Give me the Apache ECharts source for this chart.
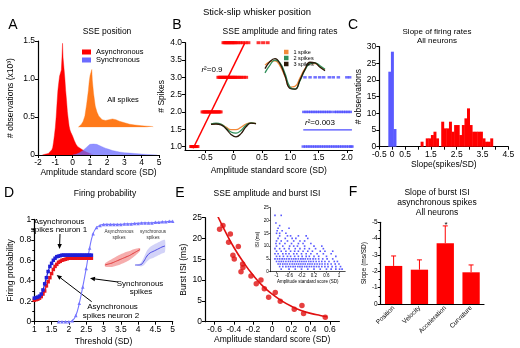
<!DOCTYPE html>
<html>
<head>
<meta charset="utf-8">
<script src="https://cdn.jsdelivr.net/npm/echarts@6/dist/echarts.min.js"></script>
<style>
  html, body { margin: 0; padding: 0; background: #fff; }
  #chart { width: 520px; height: 348px; }
</style>
</head>
<body>
<div id="chart"></div>
<script>
const FONT = '"Liberation Sans", Arial, sans-serif'

// ---- A: SSE position histograms [amplitude SD, count x10^3]
const aAsync = [[-1.75,0],[-1.6,0.01],[-1.5,0.015],[-1.4,0.02],[-1.3,0.04],[-1.2,0.07],[-1.15,0.1],[-1.1,0.17],[-1.05,0.26],[-1.0,0.36],[-0.95,0.5],[-0.9,0.68],[-0.85,0.85],[-0.8,0.95],[-0.75,1.04],[-0.7,1.08],[-0.65,1.12],[-0.61,1.3],[-0.58,1.47],[-0.55,1.28],[-0.5,1.15],[-0.45,1.02],[-0.4,0.85],[-0.35,0.72],[-0.3,0.57],[-0.25,0.47],[-0.2,0.38],[-0.15,0.33],[-0.1,0.3],[-0.05,0.28],[0,0.25],[0.1,0.19],[0.2,0.14],[0.3,0.11],[0.4,0.09],[0.5,0.08],[0.6,0.07],[0.7,0.05],[0.8,0.04],[0.9,0.03],[1.0,0.02],[1.1,0.01],[1.2,0]]
const aSync = [[0,0],[0.2,0.01],[0.4,0.03],[0.6,0.06],[0.8,0.1],[0.9,0.12],[1.0,0.14],[1.1,0.15],[1.2,0.145],[1.3,0.15],[1.4,0.14],[1.5,0.125],[1.7,0.11],[1.9,0.09],[2.1,0.075],[2.3,0.06],[2.5,0.05],[2.7,0.04],[3.0,0.03],[3.3,0.025],[3.6,0.02],[4.0,0.012],[4.3,0.008],[4.6,0.004],[4.9,0]]
// inset "All spikes", heights above the inset baseline
const aAll = [[0.31,0],[0.4,0.02],[0.5,0.04],[0.6,0.08],[0.7,0.15],[0.8,0.3],[0.9,0.48],[0.95,0.6],[1.0,0.68],[1.05,0.72],[1.1,0.76],[1.13,0.62],[1.2,0.45],[1.3,0.28],[1.4,0.2],[1.5,0.15],[1.7,0.1],[1.9,0.09],[2.1,0.1],[2.3,0.11],[2.5,0.1],[2.7,0.08],[3.0,0.06],[3.3,0.04],[3.6,0.03],[4.0,0.02],[4.3,0.015],[4.64,0.01],[4.65,0]]

// ---- B: number of spikes vs amplitude
const bAsync1 = [-0.75,-0.74,-0.73,-0.72,-0.71,-0.7,-0.69,-0.68,-0.66,-0.64]
const bAsync2 = [-0.55,-0.53,-0.51,-0.49,-0.47,-0.45,-0.43,-0.41,-0.39,-0.37,-0.35,-0.33,-0.31,-0.29,-0.27,-0.25,-0.23]
const bAsync3 = [-0.27,-0.25,-0.23,-0.21,-0.19,-0.17,-0.15,-0.13,-0.11,-0.09,-0.07,-0.05,-0.03,-0.01,0.01,0.03,0.05,0.08,0.11,0.14,0.18,0.22]
const bAsync4 = [-0.18,-0.16,-0.14,-0.12,-0.1,-0.08,-0.06,-0.04,-0.02,0,0.02,0.05,0.08,0.12,0.16,0.21,0.26,0.44,0.52,0.6]
const bSync1 = [1.23,1.27,1.31,1.35,1.39,1.43,1.47,1.51,1.55,1.59,1.63,1.67,1.71,1.75,1.79,1.83,1.87,1.91,1.95,1.99,2.03,2.07,2.09]
const bSync2 = [1.24,1.28,1.32,1.36,1.4,1.44,1.48,1.52,1.56,1.6,1.64,1.68,1.72,1.78,1.82,1.86,1.9,1.94,1.98,2.02,2.06]
const bSync3 = [1.26,1.35,1.44,1.52,1.59,1.69,1.76,1.85,2.0,2.05]
const bAsyncFit = [[-0.715,0.95],[0.2,4.0]]
const bSyncFit = [[1.23,1.48],[2.09,1.48]]
// mean waveforms (arbitrary units, one sample per step)
const waveHi1 = [0.7,0.95,1.0,0.65,-0.1,-0.85,-0.8,-0.2,0.45,0.8,0.8,0.6,0.35]
const waveHi2 = [0.15,0.7,1.05,0.85,0.1,-0.85,-1.0,-0.4,0.35,0.8,0.85,0.65,0.4]
const waveHi3 = [0.45,0.95,1.15,0.8,-0.05,-0.95,-1.0,-0.35,0.4,0.9,0.85,0.55,0.3]
const waveLo1 = [0,0.1,-0.1,-0.8,-1.4,-1.4,-0.8,0,0.3,0.1]
const waveLo2 = [0,0.2,0,-1.0,-2.0,-2.3,-1.6,-0.3,0.3,0.1]
const waveLo3 = [-0.1,0,-0.2,-1.2,-2.6,-3.2,-2.4,-0.7,0.2,0.1]

// ---- C: slope histograms (bin centre, count)
const cBinW = 0.1
const cSync = [[-0.1,22.5],[0,28.5],[0.1,5.3]]
const cAsync = [[1.15,1.5],[1.25,0],[1.35,2.5],[1.45,2.5],[1.55,3.5],[1.65,4.5],[1.75,2.5],[1.85,0],[1.95,7.5],[2.05,5.5],[2.15,5.5],[2.25,7.5],[2.35,4.5],[2.45,6.5],[2.55,6.5],[2.65,3.5],[2.75,6.5],[2.85,8.5],[2.95,11.5],[3.05,6.5],[3.15,4.5],[3.25,4.5],[3.35,4.5],[3.45,4.5],[3.55,2.5],[3.65,1.5],[3.75,1.5],[3.85,2.5]]

// ---- D: firing probability vs threshold
const dThr = [1.0,1.05,1.1,1.15,1.2,1.25,1.3,1.35,1.4,1.45,1.5,1.55,1.6,1.65,1.7,1.75,1.8,1.85,1.9,1.95,2.0,2.05,2.1,2.15,2.2,2.25,2.3,2.35,2.4,2.45,2.5,2.55,2.6,2.65]
const dNeuron1 = [0.23,0.235,0.24,0.25,0.27,0.31,0.37,0.43,0.49,0.54,0.57,0.6,0.62,0.635,0.64,0.645,0.65,0.65,0.65,0.65,0.65,0.65,0.65,0.65,0.65,0.65,0.65,0.65,0.65,0.65,0.65,0.65,0.65,0.65]
const dNeuron2 = [0.21,0.215,0.22,0.23,0.245,0.27,0.3,0.35,0.39,0.43,0.47,0.51,0.54,0.56,0.58,0.59,0.6,0.605,0.61,0.615,0.62,0.62,0.62,0.62,0.62,0.62,0.62,0.62,0.62,0.62,0.62,0.62,0.62,0.62]
const dSyncThr = [1.7,1.8,1.9,2.0,2.1,2.2,2.3,2.4,2.5,2.6,2.7,2.8,2.9,3.0,3.1,3.2,3.3,3.4,3.5,3.6,3.7,3.8,3.9,4.0,4.1,4.2,4.3,4.4,4.5,4.6,4.7,4.8,4.9,5.0]
const dSync = [0,0,0,0,0.01,0.06,0.18,0.34,0.52,0.72,0.86,0.92,0.94,0.95,0.95,0.95,0.95,0.95,0.95,0.955,0.955,0.955,0.96,0.96,0.965,0.965,0.965,0.965,0.97,0.97,0.975,0.975,0.98,0.98]
// inset example bands (mean, lower and upper edge)
const dInAsyncMean = [5,6,7,8.5,10,11.5,13,14.5,16.5,18.5,20.5]
const dInAsyncLow = [3.5,3,3,4,5,6.5,8,10,12.5,15.5,19]
const dInAsyncHigh = [6.5,9,11,13,15,16.5,18,19,20.5,21.5,22]
const dInSyncMean = [5,5,5.5,9,14,17,18.5,20,21.5,23,24]
const dInSyncLow = [5,4.5,3.5,5,8.5,11,12,13.5,15,16.5,18]
const dInSyncHigh = [5,5.5,7.5,13,19.5,23,25,26.5,28,29.5,30]

// ---- E: burst ISI vs amplitude
const eAmp = [-0.548,-0.513,-0.454,-0.436,-0.409,-0.395,-0.353,-0.325,-0.308,-0.305,-0.221,-0.166,-0.117,-0.082,-0.037,0.032,0.084,0.23,0.31,0.327,0.553]
const eIsi = [22.2,23.1,19.1,21.1,16.0,15.1,18.1,12.0,13.9,13.0,11.0,9.1,10.0,7.9,5.9,7.0,4.9,3.0,3.9,2.0,1.05]
const eFitX = [-0.57,-0.5,-0.4,-0.3,-0.2,-0.1,0,0.1,0.2,0.3,0.4,0.5,0.57]
const eFitY = [25.5,22.2,17.9,14.3,11.2,8.6,6.6,5.0,3.7,2.7,2.0,1.5,1.2]
// inset: all bursts, one row per ISI value (ms)
const eIsiRows = [
  [22, [-1.05,-0.85]],
  [19, [-1.02]],
  [18, [-0.9]],
  [17, [-0.95,-0.6]],
  [16, [-0.98,-0.82]],
  [15, [-1.0,-0.9,-0.7]],
  [14, [-0.9,-0.65,-0.55,-0.3,-0.05]],
  [13, [-0.95,-0.72,-0.5,-0.38,0.0]],
  [12, [-1.0,-0.85,-0.65,-0.45,-0.25,-0.1]],
  [11, [-1.02,-0.9,-0.73,-0.52,-0.3,-0.15,0.1]],
  [10, [-1.0,-0.8,-0.58,-0.45,-0.33,-0.1,0.2,0.45]],
  [9, [-1.05,-0.9,-0.75,-0.6,-0.4,-0.25,-0.1,0.05,0.25,0.5]],
  [8, [-1.0,-0.85,-0.7,-0.55,-0.42,-0.3,-0.15,0.0,0.15,0.4,0.55,0.8]],
  [7, [-1.05,-0.95,-0.8,-0.7,-0.6,-0.45,-0.35,-0.2,-0.05,0.1,0.3,0.5,0.75]],
  [6, [-1.0,-0.9,-0.78,-0.65,-0.55,-0.42,-0.3,-0.18,-0.05,0.05,0.2,0.35,0.6,0.9]],
  [5, [-1.05,-0.97,-0.9,-0.82,-0.75,-0.68,-0.6,-0.52,-0.45,-0.38,-0.3,-0.22,-0.15,-0.08,0.0,0.08,0.17,0.25,0.35,0.48,0.62,0.8]],
  [4, [-1.0,-0.92,-0.85,-0.78,-0.7,-0.62,-0.55,-0.48,-0.4,-0.33,-0.26,-0.19,-0.12,-0.05,0.03,0.1,0.18,0.27,0.36,0.45,0.55,0.68,0.85,0.95]],
  [3, [-0.95,-0.88,-0.8,-0.73,-0.66,-0.58,-0.5,-0.43,-0.36,-0.29,-0.22,-0.15,-0.08,0.0,0.07,0.14,0.22,0.3,0.38,0.46,0.55,0.64,0.75,0.88,1.0]],
  [2, [-0.9,-0.8,-0.7,-0.62,-0.55,-0.47,-0.4,-0.32,-0.25,-0.18,-0.1,-0.03,0.05,0.12,0.2,0.28,0.36,0.45,0.55,0.65,0.78,0.9,1.05]],
  [1, [-0.85,-0.6,-0.4,-0.2,0.0,0.2,0.4,0.6,0.75,0.9,1.02,1.1]]
]

// ---- F: slope of burst ISI
const fCats = ['Position', 'Velocity', 'Acceleration', 'Curvature']
const fSlope = [-2.33, -2.1, -3.72, -1.94]
const fErr = [0.61, 0.6, 1.06, 0.45]

const RED = '#ff0000'
const LBLUE = '#6b6bff'

function axis(grid, extra) {
  const base = {
    gridIndex: grid, type: 'value',
    axisLine: { show: true, onZero: false, lineStyle: { color: '#000', width: 1.2 } },
    axisTick: { show: true, length: 3, lineStyle: { color: '#000', width: 1 } },
    axisLabel: { color: '#000', fontSize: 8.5, fontFamily: FONT, margin: 3 },
    splitLine: { show: false },
    nameLocation: 'middle',
    nameTextStyle: { color: '#000', fontSize: 8.5, fontFamily: FONT }
  }
  for (const k in extra) {
    if (base[k] && typeof base[k] === 'object') base[k] = Object.assign({}, base[k], extra[k])
    else base[k] = extra[k]
  }
  return base
}
function hidden(grid, min, max) {
  return { gridIndex: grid, type: 'value', show: false, min: min, max: max }
}
const fmt1 = v => (v === 0 ? '0' : v.toFixed(1))
const small = { fontSize: 4.5, margin: 1.5 }

const grids = [
  { left: 38, top: 41, width: 121, height: 114 },          // A
  { left: 78, top: 66.5, width: 75, height: 60.8 },        // A inset
  { left: 185, top: 42.7, width: 167.5, height: 107.3 },   // B
  { left: 265, top: 58, width: 60, height: 34 },           // B upper waves
  { left: 211, top: 118, width: 45, height: 20 },          // B lower waves
  { left: 379.3, top: 46.7, width: 129, height: 100 },     // C
  { left: 34.3, top: 219.3, width: 138.4, height: 102.4 }, // D
  { left: 105, top: 240, width: 35, height: 30 },          // D inset async
  { left: 135, top: 240, width: 30, height: 30 },          // D inset sync
  { left: 205, top: 217.7, width: 134.4, height: 104 },    // E
  { left: 270.3, top: 207.7, width: 74.9, height: 64 },    // E inset
  { left: 380.7, top: 222.3, width: 103.3, height: 81.7 }  // F
]

const bTicksX = [-0.5, 0, 0.5, 1, 1.5, 2]
const bTicksY = [1, 1.5, 2, 2.5, 3, 3.5, 4]
const eTicksX = [-0.6, -0.4, -0.2, 0, 0.2, 0.4, 0.6]
const eInTicksX = [-1, -0.6, -0.2, 0.2, 0.6, 1]

const xAxes = [
  axis(0, { min: -2, max: 5, interval: 1, name: 'Amplitude standard score (SD)', nameGap: 12.5 }),
  hidden(1, 0.3, 4.65),
  axis(2, { min: -0.86, max: 2.1, axisTick: { customValues: bTicksX }, axisLabel: { customValues: bTicksX, formatter: fmt1 }, name: 'Amplitude standard score (SD)', nameGap: 16 }),
  hidden(3, 0, 12),
  hidden(4, 0, 9),
  axis(5, { min: -0.5, max: 4.5, interval: 0.5, axisLabel: { customValues: [-0.5, 0, 0.5, 1.5, 2.5, 3.5, 4.5] }, name: 'Slope(spikes/SD)', nameGap: 13 }),
  axis(6, { min: 1, max: 5, interval: 0.5, name: 'Threshold (SD)', nameGap: 15 }),
  hidden(7, 0, 10),
  hidden(8, 0, 10),
  axis(9, { min: -0.7, max: 0.7, axisTick: { customValues: eTicksX }, axisLabel: { customValues: eTicksX, formatter: fmt1 }, name: 'Amplitude standard score (SD)', nameGap: 13 }),
  axis(10, { min: -1.2, max: 1.2, axisLine: { lineStyle: { color: '#000', width: 0.7 } }, axisTick: { length: 1.5, customValues: eInTicksX, lineStyle: { color: '#000', width: 0.6 } }, axisLabel: Object.assign({ customValues: eInTicksX }, small), name: 'Amplitude standard score (SD)', nameGap: 6, nameTextStyle: { fontSize: 4.5 } }),
  axis(11, { type: 'category', data: fCats, axisTick: { show: false }, axisLabel: { rotate: 45, fontSize: 6.5, margin: 3, interval: 0 } })
]
const yAxes = [
  axis(0, { min: 0, max: 1.5, interval: 0.5, axisLabel: { formatter: fmt1 }, name: '# observations (x10³)', nameGap: 23 }),
  hidden(1, 0, 0.8),
  axis(2, { min: 0.9, max: 4.0, axisTick: { customValues: bTicksY }, axisLabel: { customValues: bTicksY, formatter: v => v.toFixed(1) }, name: '# Spikes', nameGap: 10.5 }),
  hidden(3, -1.2, 1.2),
  hidden(4, -3.5, 1.5),
  axis(5, { min: 0, max: 30, interval: 5, name: '# observations', nameGap: 14 }),
  axis(6, { min: 0, max: 1, interval: 0.2, minorTick: { show: true, splitNumber: 2, length: 2, lineStyle: { color: '#000' } }, name: 'Firing probability', nameGap: 16 }),
  hidden(7, 0, 30),
  hidden(8, 0, 30),
  axis(9, { min: 0, max: 25, interval: 5, name: 'Burst ISI (ms)', nameGap: 14 }),
  axis(10, { min: 0, max: 25, interval: 5, axisLine: { lineStyle: { color: '#000', width: 0.7 } }, axisTick: { length: 1.5, lineStyle: { color: '#000', width: 0.6 } }, axisLabel: small, name: 'ISI (ms)', nameGap: 5, nameTextStyle: { fontSize: 4.5 } }),
  axis(11, { min: -5, max: 0, interval: 1, inverse: true, minorTick: { show: true, splitNumber: 2, length: 2, lineStyle: { color: '#000' } }, axisLabel: { fontSize: 6.5 }, name: 'Slope (ms/SD)', nameGap: 11, nameTextStyle: { fontSize: 6.5 } })
]

function area(name, g, data, color, opacity, z) {
  return {
    type: 'line', name: name, xAxisIndex: g, yAxisIndex: g, data: data, symbol: 'none',
    lineStyle: { width: 0.4, color: color, opacity: opacity }, itemStyle: { color: color },
    areaStyle: { color: color, opacity: opacity }, z: z
  }
}
function wave(name, g, arr, color) {
  return {
    type: 'line', name: name, xAxisIndex: g, yAxisIndex: g, smooth: true, symbol: 'none',
    data: arr.map((v, i) => [i, v]), lineStyle: { color: color, width: 1.3 }, itemStyle: { color: color }
  }
}
function level(xs, n) { return xs.map(x => [x, n]) }
function hist(g, data, color) {
  return {
    type: 'custom', xAxisIndex: g, yAxisIndex: g, data: data, encode: { x: 0, y: 1 },
    renderItem: (params, api) => {
      const c = api.value(0), h = api.value(1)
      const p0 = api.coord([c - cBinW / 2, h])
      const p1 = api.coord([c + cBinW / 2, 0])
      return { type: 'rect', shape: { x: p0[0], y: p0[1], width: p1[0] - p0[0] + 0.4, height: p1[1] - p0[1] }, style: { fill: color } }
    }
  }
}
// shaded band (one polygon) plus its mean line
function band(g, low, high, mean, fill, stroke) {
  return [
    { type: 'custom', xAxisIndex: g, yAxisIndex: g, data: [[0, low[0]]], encode: { x: 0, y: 1 },
      renderItem: (params, api) => {
        const pts = []
        high.forEach((v, i) => pts.push(api.coord([i, v])))
        for (let i = low.length - 1; i >= 0; i--) pts.push(api.coord([i, low[i]]))
        return { type: 'polygon', shape: { points: pts, smooth: 0.25 }, style: { fill: fill } }
      } },
    { type: 'line', xAxisIndex: g, yAxisIndex: g, smooth: true, symbol: 'none', data: mean.map((v, i) => [i, v]), lineStyle: { color: stroke, width: 1 }, z: 3 }
  ]
}

const series = [
  // A
  area('Asynchronous', 0, aAsync, RED, 1, 2),
  area('Synchronous', 0, aSync, LBLUE, 0.75, 3),
  area('All spikes', 1, aAll, '#ff7a1a', 1, 2),
  // B
  { type: 'scatter', xAxisIndex: 2, yAxisIndex: 2, symbol: 'rect', symbolSize: [4, 3], itemStyle: { color: RED },
    data: [].concat(level(bAsync1, 1), level(bAsync2, 2), level(bAsync3, 3), level(bAsync4, 4)) },
  { type: 'scatter', xAxisIndex: 2, yAxisIndex: 2, symbol: 'rect', symbolSize: [3.5, 2.5], itemStyle: { color: '#4d4dff' },
    data: [].concat(level(bSync1, 1), level(bSync2, 2), level(bSync3, 3)) },
  { type: 'line', xAxisIndex: 2, yAxisIndex: 2, data: bAsyncFit, symbol: 'none', lineStyle: { color: RED, width: 1.5 }, z: 4 },
  { type: 'line', xAxisIndex: 2, yAxisIndex: 2, data: bSyncFit, symbol: 'none', lineStyle: { color: '#4d4dff', width: 1.2 }, z: 4 },
  wave('1 spike', 3, waveHi1, '#f28a3a'),
  wave('2 spikes', 3, waveHi2, '#2f8f5a'),
  wave('3 spikes', 3, waveHi3, '#2a1708'),
  wave('1 spike', 4, waveLo1, '#f28a3a'),
  wave('2 spikes', 4, waveLo2, '#2f8f5a'),
  wave('3 spikes', 4, waveLo3, '#2a1708'),
  // C
  hist(5, cSync, '#5a5aff'),
  hist(5, cAsync, RED),
  // D
  { type: 'line', xAxisIndex: 6, yAxisIndex: 6, smooth: true, data: dThr.map((x, i) => [x, dNeuron2[i]]),
    symbol: 'rect', symbolSize: 3.5, lineStyle: { color: '#e8141b', width: 1.2 }, itemStyle: { color: '#e8141b' }, z: 3 },
  { type: 'line', xAxisIndex: 6, yAxisIndex: 6, smooth: true, data: dThr.map((x, i) => [x, dNeuron1[i]]),
    symbol: 'rect', symbolSize: 3.5, lineStyle: { color: '#1f1fd8', width: 1.2 }, itemStyle: { color: '#1f1fd8' }, z: 4 },
  { type: 'line', xAxisIndex: 6, yAxisIndex: 6, smooth: true, data: dSyncThr.map((x, i) => [x, dSync[i]]),
    symbol: 'triangle', symbolSize: 3.5, lineStyle: { color: '#7575ff', width: 1.1 }, itemStyle: { color: '#7575ff' }, z: 3 },
  ...band(7, dInAsyncLow, dInAsyncHigh, dInAsyncMean, '#f6adad', '#e23a3a'),
  ...band(8, dInSyncLow, dInSyncHigh, dInSyncMean, '#d3d3f8', '#4a4ae6'),
  // E
  { type: 'line', xAxisIndex: 9, yAxisIndex: 9, smooth: true, symbol: 'none', data: eFitX.map((x, i) => [x, eFitY[i]]),
    lineStyle: { color: '#e01010', width: 1.6 } },
  { type: 'scatter', xAxisIndex: 9, yAxisIndex: 9, symbolSize: 5.5, itemStyle: { color: '#e01010' }, data: eAmp.map((x, i) => [x, eIsi[i]]) },
  { type: 'scatter', xAxisIndex: 10, yAxisIndex: 10, symbol: 'rect', symbolSize: 1.6, itemStyle: { color: '#2e2eff' },
    data: eIsiRows.flatMap(r => r[1].map(x => [x, r[0]])) },
  // F
  { type: 'bar', xAxisIndex: 11, yAxisIndex: 11, data: fSlope, barWidth: '67%', itemStyle: { color: RED } },
  { type: 'custom', xAxisIndex: 11, yAxisIndex: 11, data: fSlope.map((v, i) => [i, v, v - fErr[i]]), z: 5,
    renderItem: (params, api) => {
      const p0 = api.coord([api.value(0), api.value(1)])
      const p1 = api.coord([api.value(0), api.value(2)])
      const st = { stroke: RED, lineWidth: 1 }
      return { type: 'group', children: [
        { type: 'line', shape: { x1: p0[0], y1: p0[1], x2: p1[0], y2: p1[1] }, style: st },
        { type: 'line', shape: { x1: p1[0] - 2.5, y1: p1[1], x2: p1[0] + 2.5, y2: p1[1] }, style: st }
      ] }
    } }
]

function txt(text, x, y, size, extra) {
  return { type: 'text', x: x, y: y, silent: true,
    style: Object.assign({ text: text, fill: '#000', font: size + 'px ' + FONT, align: 'center', verticalAlign: 'middle' }, extra || {}) }
}
function arrow(x1, y1, x2, y2) {
  const a = Math.atan2(y2 - y1, x2 - x1), L = 5, W = 2.2
  const bx = x2 - L * Math.cos(a), by = y2 - L * Math.sin(a)
  return { type: 'group', silent: true, children: [
    { type: 'line', shape: { x1: x1, y1: y1, x2: bx, y2: by }, style: { stroke: '#000', lineWidth: 1 } },
    { type: 'polygon', shape: { points: [[x2, y2], [bx + W * Math.sin(a), by - W * Math.cos(a)], [bx - W * Math.sin(a), by + W * Math.cos(a)]] }, style: { fill: '#000' } }
  ] }
}
const italicR = { rich: { i: { font: 'italic 8px ' + FONT } } }

const graphic = [
  txt('Stick-slip whisker position', 257, 12, 9.5),
  txt('A', 13, 25, 14), txt('B', 177, 25, 14), txt('C', 353, 25, 14),
  txt('D', 9, 193, 14), txt('E', 180, 193, 14), txt('F', 353, 192, 14),
  txt('SSE position', 107, 32, 8.5),
  txt('SSE amplitude and firing rates', 280, 32, 8.5),
  txt('Slope of firing rates', 437, 31.5, 8),
  txt('All neurons', 437, 41, 8),
  txt('Firing probability', 105, 194, 8.5),
  txt('SSE amplitude and burst ISI', 267, 194, 8.5),
  txt('Slope of burst ISI', 437, 193, 8.5),
  txt('asynchronous spikes', 437, 203, 8.5),
  txt('All neurons', 437, 213, 8.5),
  txt('All spikes', 123, 100, 7.5),
  txt('{i|r}²=0.9', 212, 70, 8, italicR),
  txt('{i|r}²=0.003', 320, 123, 8, italicR),
  txt('Asynchronous', 59, 221.5, 8), txt('spikes neuron 1', 59, 230, 8),
  txt('Synchronous', 140, 283.3, 8), txt('spikes', 141, 291.7, 8),
  txt('Asynchronous', 112.5, 306.7, 8), txt('spikes neuron 2', 111, 315.7, 8),
  txt('Asynchronous', 119, 232, 4.6, { fill: '#333' }), txt('spikes', 119, 237.3, 4.6, { fill: '#333' }),
  txt('synchronous', 153, 232, 4.6, { fill: '#333' }), txt('spikes', 153, 237.3, 4.6, { fill: '#333' }),
  arrow(60, 234, 59.5, 249),
  arrow(118, 282, 90, 278.3),
  arrow(91.7, 301.7, 56.7, 275),
  txt('*', 446, 224.5, 8)
]

const chart = echarts.init(document.getElementById('chart'))
chart.setOption({
  animation: false,
  textStyle: { fontFamily: FONT },
  grid: grids,
  xAxis: xAxes,
  yAxis: yAxes,
  legend: [
    { data: ['Asynchronous', 'Synchronous'], left: 82, top: 48, orient: 'vertical', icon: 'rect', itemWidth: 9, itemHeight: 5,
      itemGap: 0, padding: 0, selectedMode: false, textStyle: { fontSize: 7.5, lineHeight: 7, color: '#000', fontFamily: FONT } },
    { data: ['1 spike', '2 spikes', '3 spikes'], left: 284, top: 49, orient: 'vertical', icon: 'rect', itemWidth: 4.5, itemHeight: 4.5,
      itemGap: 0, padding: 0, selectedMode: false, textStyle: { fontSize: 5.5, lineHeight: 5.3, color: '#000', fontFamily: FONT } }
  ],
  series: series,
  graphic: graphic
})
</script>
</body>
</html>
